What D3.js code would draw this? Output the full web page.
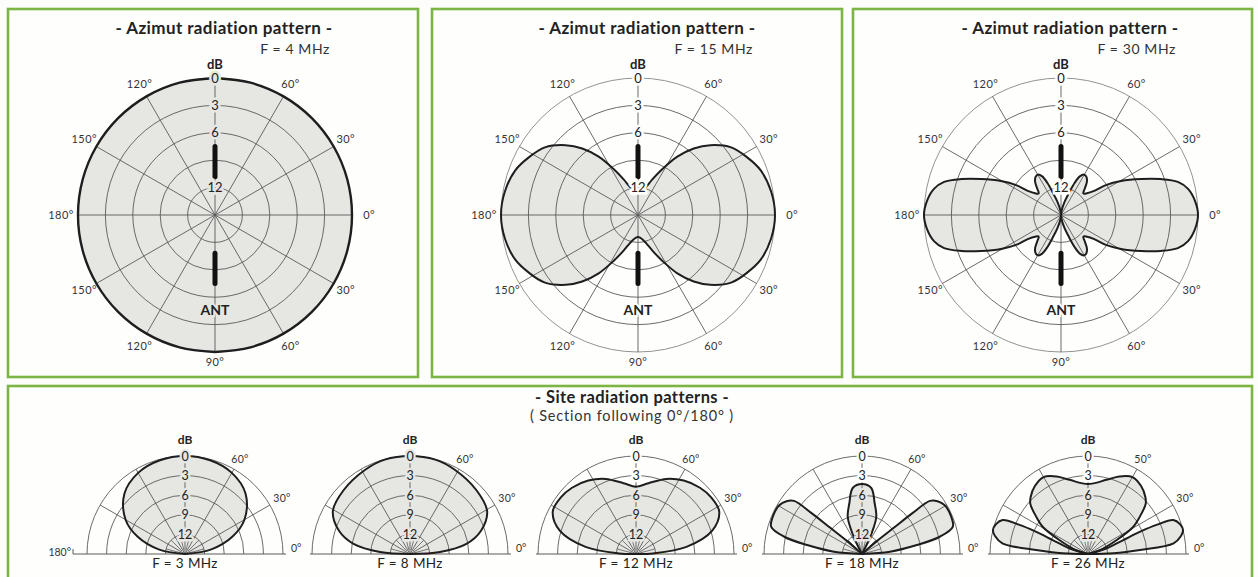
<!DOCTYPE html>
<html>
<head>
<meta charset="utf-8">
<script src="https://cdn.jsdelivr.net/npm/d3@7"></script>
<style>
  body { margin: 0; background: #fdfdfb; }
  svg { display: block; }
  text { font-family: Lato, 'Open Sans', sans-serif; fill: #222; }
</style>
</head>
<body>
<svg id="chart" width="1258" height="577"></svg>
<script>
// ---- data ----
const ringDb = [0, 3, 6, 9, 12];
const azRingLabels = [0, 3, 6, 12];          // 9 is hidden behind the antenna
const siteRingLabels = [0, 3, 6, 9, 12];
const azSpokes = [0, 30, 60, 90, 120, 150, 180, 210, 240, 270, 300, 330];
const azDegAngles = [0, 30, 60, 120, 150, 180, 210, 240, 270, 300, 330];
const siteSpokes = [30, 60, 120, 150];
const siteFan = [15, 45, 75, 105, 135, 165];

const azFreqs = ['F = 4 MHz', 'F = 15 MHz', 'F = 30 MHz'];
// one quadrant (0..90 deg) of each azimut pattern, attenuation in dB
const az4Ang = [0, 15, 30, 45, 60, 75, 90];
const az4Db = [0, 0, 0, 0, 0, 0, 0];
const az15Ang = [0, 10, 20, 28, 36, 44, 50, 56, 62, 68, 74, 82, 90];
const az15Db = [0, 0.2, 0.7, 1.5, 2.4, 4.0, 5.5, 7.3, 9.3, 10.8, 11.8, 12.4, 12.6];
const az30Ang = [0, 6, 11.6, 15.8, 19.8, 24.2, 29.5, 33.7, 36, 40, 44, 48, 52, 56, 60, 64, 67, 70, 75, 82, 90];
const az30Db = [0, 0.25, 0.8, 1.7, 3.4, 5.4, 7.45, 9.1, 10.5, 11.3, 11.6, 11.1, 10.4, 10.0, 9.9, 10.3, 11.2, 12.4, 13.5, 14.5, 15];

const siteFreqs = ['F = 3 MHz', 'F = 8 MHz', 'F = 12 MHz', 'F = 18 MHz', 'F = 26 MHz'];
const site60Labels = ['60°', '60°', '60°', '60°', '50°'];
// elevation patterns, right half of each lobe (0 = horizon, 90 = zenith)
const s3Ang = [0, 10, 20, 30, 45, 60, 75, 90];
const s3Db = [15, 10.9, 7.3, 4.5, 1.9, 0.66, 0.15, 0];
const s8Ang = [0, 4, 10, 18, 29, 44, 62, 75, 90];
const s8Db = [15, 10.4, 6.3, 3.6, 1.5, 0.9, 0.4, 0.05, 0];
const s12Ang = [0, 2, 8, 17, 27, 37, 46, 57, 68, 80, 90];
const s12Db = [15, 12.4, 7.2, 2.8, 0.7, 0.6, 0.9, 1.6, 2.6, 4.0, 4.7];
const s18MainAng = [58, 65, 69, 76, 82, 90];
const s18MainDb = [15, 11.5, 8.9, 7.0, 4.8, 4.3];
const s18SideAng = [0, 4.7, 9.3, 12.5, 16.6, 22.7, 30.5, 35, 38, 39, 39.5, 41, 44];
const s18SideDb = [15, 10.7, 6.5, 2.8, 0.5, 0.2, 0.3, 0.9, 1.8, 5, 8.5, 12, 15];
const s26MainAng = [15, 18, 26, 31, 35, 41, 45, 52, 60, 68, 76, 90];
const s26MainDb = [15, 13.1, 10.1, 6.9, 5.5, 3.3, 2.6, 1.8, 1.4, 2.2, 3.3, 4.3];
const s26SideAng = [0, 1.6, 4.4, 7.1, 11, 14, 18, 21.7, 23, 23.2, 21.6, 17, 10];
const s26SideDb = [15, 11.1, 7.0, 1.8, 0.5, 0.0, 0.2, 0.95, 3.5, 6.3, 9.2, 12, 15];

// ---- drawing ----
const svg = d3.select('#chart');
const green = '#7db544';
const fillGrey = '#e6e6e3';
const gridCol = '#5a5a5a';
const paper = '#fefefd';
const toRad = d => d * Math.PI / 180;

svg.append('rect').attr('width', 1258).attr('height', 577).attr('fill', '#fdfdfb');

// panels
[[8, 9, 410, 368], [432, 9, 410, 368], [853, 9, 399, 368], [8, 386, 1244, 220]].forEach(([x, y, w, h]) => {
  svg.append('rect').attr('x', x).attr('y', y).attr('width', w).attr('height', h)
    .attr('fill', paper).attr('stroke', green).attr('stroke-width', 2.6);
});

const pts = (ang, db) => ang.map((a, i) => ({ a: a, db: db[i] }));

// ---------- azimut charts ----------
const azR = 137;
const azCenters = [215, 638, 1061];
const azData = [[az4Ang, az4Db], [az15Ang, az15Db], [az30Ang, az30Db]];

azData.forEach(([ang, db], k) => {
  const cx = azCenters[k], cy = 215;
  const r = d3.scaleLinear().domain([15, 0]).range([0, azR]);
  const g = svg.append('g').attr('transform', `translate(${cx},${cy})`);

  // titles
  svg.append('text').attr('x', cx + 9).attr('y', 34).attr('text-anchor', 'middle')
    .style('font-size', '17px').style('font-weight', 700).style('letter-spacing', '0.4px')
    .text('- Azimut radiation pattern -');
  svg.append('text').attr('x', cx + 115).attr('y', 54).attr('text-anchor', 'end')
    .style('font-size', '14px').style('letter-spacing', '0.6px').style('fill', '#333').text(azFreqs[k]);
  svg.append('text').attr('x', cx).attr('y', 69).attr('text-anchor', 'middle')
    .style('font-size', '13px').style('font-weight', 700).text('dB');

  // pattern: mirror the quadrant into the right and left halves
  const q = pts(ang, db);
  const right = q.slice(1).reverse().map(p => ({ a: -p.a, db: p.db })).concat(q);
  const left = right.slice().reverse().map(p => ({ a: 180 - p.a, db: p.db }));
  const line = d3.lineRadial().angle(p => toRad(90 - p.a)).radius(p => r(p.db)).curve(d3.curveCatmullRom);
  const d = line(right) + line(left).replace(/^M/, 'L') + 'Z';

  g.append('path').attr('d', d).attr('fill', fillGrey);

  // grid
  g.selectAll('circle.ring').data(ringDb).join('circle').attr('class', 'ring')
    .attr('r', v => r(v)).attr('fill', 'none')
    .attr('stroke', v => (v === 0 ? '#777' : gridCol)).attr('stroke-width', v => (v === 0 ? 0.8 : 0.9));
  g.selectAll('line.spoke').data(azSpokes).join('line').attr('class', 'spoke')
    .attr('x1', 0).attr('y1', 0)
    .attr('x2', a => r(0) * Math.cos(toRad(a))).attr('y2', a => -r(0) * Math.sin(toRad(a)))
    .attr('stroke', gridCol).attr('stroke-width', 0.9);

  g.append('path').attr('d', d).attr('fill', 'none').attr('stroke', '#1e1e1e')
    .attr('stroke-width', k === 0 ? 2.4 : 2).attr('stroke-linejoin', 'round');

  // antenna
  [[-r(7.5), -r(10.8)], [r(10.8), r(7.5)]].forEach(([y1, y2]) => {
    g.append('line').attr('x1', 0).attr('x2', 0).attr('y1', y1).attr('y2', y2)
      .attr('stroke', '#111').attr('stroke-width', 5).attr('stroke-linecap', 'round');
  });

  const top = db[db.length - 1];
  const bg = v => (v >= top ? fillGrey : paper);

  // dB labels along the vertical axis
  g.selectAll('text.rl').data(azRingLabels).join('text').attr('class', 'rl')
    .attr('x', 0).attr('y', v => -r(v)).attr('dy', '0.36em').attr('text-anchor', 'middle')
    .style('font-size', '13px')
    .attr('stroke', v => bg(v)).attr('stroke-width', 5).attr('paint-order', 'stroke')
    .text(v => v);

  g.append('text').attr('x', 0).attr('y', 95).attr('dy', '0.36em').attr('text-anchor', 'middle')
    .style('font-size', '14px').style('font-weight', 700)
    .attr('stroke', bg(0)).attr('stroke-width', 4).attr('paint-order', 'stroke')
    .text('ANT');

  // degree labels
  g.selectAll('text.deg').data(azDegAngles).join('text').attr('class', 'deg')
    .attr('x', a => (a % 180 === 0 ? azR + 17 : azR + 14) * Math.cos(toRad(a)))
    .attr('y', a => -(a === 270 ? azR + 10 : azR + 14) * Math.sin(toRad(a)))
    .attr('dy', '0.36em').attr('text-anchor', 'middle')
    .style('font-size', '11px').style('letter-spacing', '0.4px').style('fill', '#333')
    .text(a => (a <= 180 ? a : 360 - a) + '°');
});

// ---------- site charts ----------
svg.append('text').attr('x', 632).attr('y', 403).attr('text-anchor', 'middle')
  .style('font-size', '16.5px').style('font-weight', 700).style('letter-spacing', '0.4px')
  .text('- Site radiation patterns -');
svg.append('text').attr('x', 632).attr('y', 421).attr('text-anchor', 'middle')
  .style('font-size', '14.5px').style('letter-spacing', '0.8px').style('fill', '#333')
  .text('( Section following 0°/180° )');

const siteR = 98;
const siteCenters = [185, 410, 636, 862, 1088];
const siteLobes = [
  [{ ang: s3Ang, db: s3Db, sym: true }],
  [{ ang: s8Ang, db: s8Db, sym: true }],
  [{ ang: s12Ang, db: s12Db, sym: true }],
  [{ ang: s18MainAng, db: s18MainDb, sym: true }, { ang: s18SideAng, db: s18SideDb, sym: false }],
  [{ ang: s26MainAng, db: s26MainDb, sym: true }, { ang: s26SideAng, db: s26SideDb, sym: false }]
];

siteLobes.forEach((lobes, k) => {
  const cx = siteCenters[k], cy = 554;
  const r = d3.scaleLinear().domain([15, 0]).range([0, siteR]);
  const g = svg.append('g').attr('transform', `translate(${cx},${cy})`);
  const line = d3.lineRadial().angle(p => toRad(90 - p.a)).radius(p => r(p.db)).curve(d3.curveCatmullRom);

  // build lobe paths
  const paths = [];
  lobes.forEach(l => {
    const half = pts(l.ang, l.db);
    if (l.sym) {
      const full = half.concat(half.slice(0, -1).reverse().map(p => ({ a: 180 - p.a, db: p.db })));
      paths.push(line(full) + 'Z');
    } else {
      paths.push(line(half) + 'Z');
      paths.push(line(half.map(p => ({ a: 180 - p.a, db: p.db }))) + 'Z');
    }
  });

  paths.forEach(d => g.append('path').attr('d', d).attr('fill', fillGrey));

  // grid
  const arc = v => { const p = d3.path(); p.arc(0, 0, r(v), Math.PI, 2 * Math.PI); return p.toString(); };
  g.selectAll('path.ring').data(ringDb).join('path').attr('class', 'ring').attr('d', arc)
    .attr('fill', 'none').attr('stroke', gridCol).attr('stroke-width', 0.9);
  g.selectAll('line.spoke').data(siteSpokes).join('line').attr('class', 'spoke')
    .attr('x1', 0).attr('y1', 0)
    .attr('x2', a => r(0) * Math.cos(toRad(a))).attr('y2', a => -r(0) * Math.sin(toRad(a)))
    .attr('stroke', gridCol).attr('stroke-width', 0.9);
  g.selectAll('line.fan').data(siteFan).join('line').attr('class', 'fan')
    .attr('x1', a => 4 * Math.cos(toRad(a))).attr('y1', a => -4 * Math.sin(toRad(a)))
    .attr('x2', a => r(12) * Math.cos(toRad(a))).attr('y2', a => -r(12) * Math.sin(toRad(a)))
    .attr('stroke', gridCol).attr('stroke-width', 0.8);
  g.append('line').attr('x1', 0).attr('x2', 0).attr('y1', 0).attr('y2', -r(0))
    .attr('stroke', gridCol).attr('stroke-width', 0.9);
  g.append('line').attr('x1', k === 0 ? -siteR - 14 : -siteR - 2).attr('x2', siteR + 3).attr('y1', 0).attr('y2', 0)
    .attr('stroke', gridCol).attr('stroke-width', 1);
  if (k === 0) {
    g.append('line').attr('x1', -siteR - 14).attr('x2', -siteR - 14).attr('y1', -5).attr('y2', 0)
      .attr('stroke', gridCol).attr('stroke-width', 1);
  }

  paths.forEach(d => g.append('path').attr('d', d).attr('fill', 'none').attr('stroke', '#1e1e1e')
    .attr('stroke-width', 2).attr('stroke-linejoin', 'round'));

  const top = lobes[0].db[lobes[0].db.length - 1];
  const bg = v => (v >= top ? fillGrey : paper);
  g.selectAll('text.rl').data(siteRingLabels).join('text').attr('class', 'rl')
    .attr('x', 0).attr('y', v => -r(v)).attr('dy', '0.36em').attr('text-anchor', 'middle')
    .style('font-size', '12.5px')
    .attr('stroke', v => bg(v)).attr('stroke-width', 4.5).attr('paint-order', 'stroke')
    .text(v => v);

  g.append('text').attr('x', 0).attr('y', -siteR - 16).attr('dy', '0.36em').attr('text-anchor', 'middle')
    .style('font-size', '12px').style('font-weight', 700).text('dB');

  // degree labels
  [[30, '30°', 112], [60, site60Labels[k], 110]].forEach(([a, t, rr]) => {
    g.append('text').attr('x', rr * Math.cos(toRad(a))).attr('y', -rr * Math.sin(toRad(a)))
      .attr('dy', '0.36em').attr('text-anchor', 'middle').style('font-size', '10.5px')
      .style('letter-spacing', '0.3px').style('fill', '#333').text(t);
  });
  g.append('text').attr('x', siteR + 8).attr('y', -2).attr('text-anchor', 'start')
    .style('font-size', '10.5px').style('fill', '#333').text('0°');
  if (k === 0) {
    g.append('text').attr('x', -siteR - 16).attr('y', 2).attr('text-anchor', 'end')
      .style('font-size', '10.5px').style('fill', '#333').text('180°');
  }
  svg.append('text').attr('x', cx).attr('y', 568).attr('text-anchor', 'middle')
    .style('font-size', '13.5px').style('letter-spacing', '0.4px').style('fill', '#222').text(siteFreqs[k]);
});
</script>
</body>
</html>
